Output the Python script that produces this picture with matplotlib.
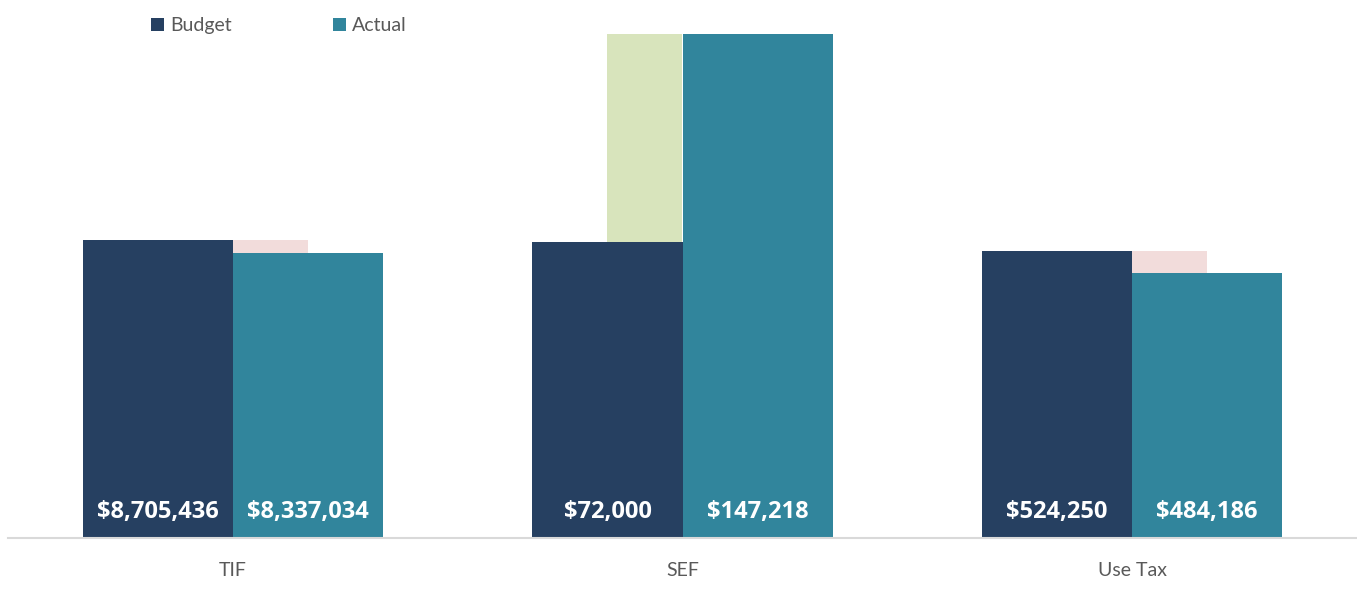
import numpy as np
import matplotlib.pyplot as plt

# Budget vs actual by revenue source
categories = ["TIF", "SEF", "Use Tax"]
budget = [8705436, 72000, 524250]
actual = [8337034, 147218, 484186]
# full-scale value of each group's own axis (each source is scaled separately)
full_scale = [14730000, 122600, 920700]

BUDGET_COLOR = "#264061"
ACTUAL_COLOR = "#31859C"
UNDER_COLOR = "#F2DCDB"
OVER_COLOR = "#D8E4BC"

plt.rcParams['font.family'] = ['Lato', 'DejaVu Sans']

fig = plt.figure(figsize=(13.57, 5.90), dpi=100)
ax = fig.add_axes([8 / 1357, 52 / 590, 1349 / 1357, 504 / 590])

x = np.arange(len(categories))
w = 150 / 449.5

b_h = np.array(budget) / np.array(full_scale)
a_h = np.minimum(np.array(actual) / np.array(full_scale), 1.0)

for i in range(len(categories)):
    if actual[i] < budget[i]:
        # shortfall marker sits behind the actual bar
        ax.bar(x[i] + w / 4, b_h[i], w / 2, color=UNDER_COLOR, zorder=1)
    else:
        # overage marker sits behind the budget bar
        ax.bar(x[i] - w / 4, a_h[i], w / 2, color=OVER_COLOR, zorder=1)

ax.bar(x - w / 2, b_h, w, color=BUDGET_COLOR, zorder=2, label="Budget")
ax.bar(x + w / 2, a_h, w, color=ACTUAL_COLOR, zorder=2, label="Actual")

for i in range(len(categories)):
    ax.text(x[i] - w / 2, 0.051, f"${budget[i]:,}", ha="center", va="center",
            color="white", fontsize=17, fontweight="bold", family="Open Sans", zorder=3)
    ax.text(x[i] + w / 2, 0.051, f"${actual[i]:,}", ha="center", va="center",
            color="white", fontsize=17, fontweight="bold", family="Open Sans", zorder=3)

ax.set_xlim(-0.5, 2.5)
ax.set_ylim(0, 1.0)
ax.set_xticks(x)
ax.set_xticklabels(categories, fontsize=14, color="#595959")
ax.tick_params(axis="x", length=0, pad=17)
ax.set_yticks([])
for side in ["top", "right", "left"]:
    ax.spines[side].set_visible(False)
ax.spines["bottom"].set_color("#D9D9D9")
ax.spines["bottom"].set_linewidth(1.5)

leg = ax.legend(loc="upper left", bbox_to_anchor=(125 / 1349, 1 + 34 / 504), ncol=2,
                frameon=False, fontsize=14, handlelength=0.7, handleheight=0.7,
                handletextpad=0.3, columnspacing=5.2, labelcolor="#595959")

plt.savefig("out.png", dpi=100)
